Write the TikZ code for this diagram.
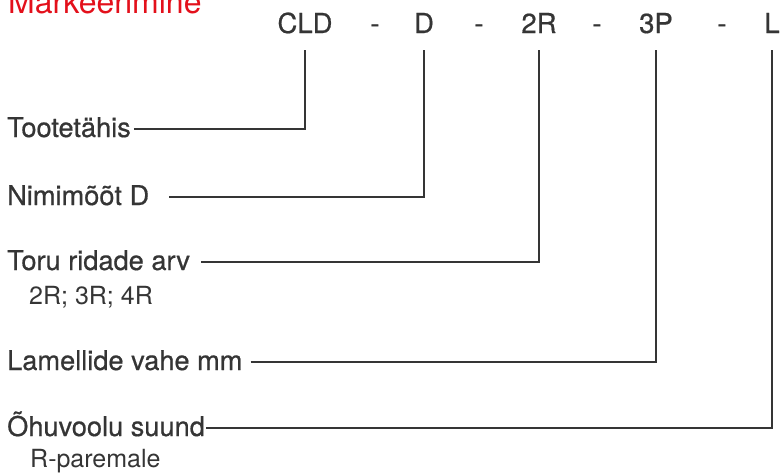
\documentclass[tikz,border=0pt]{standalone}
\usepackage{fontspec}
\setmainfont{TeX Gyre Heros}
\newfontfamily\heavyfont[FakeBold=0.6]{TeX Gyre Heros}
\usepackage{tikz}
\definecolor{markred}{HTML}{E3101B}
\definecolor{ink}{HTML}{353535}
\tikzset{
  code/.style={anchor=base,inner sep=0pt,text depth=0pt,text=ink,font=\heavyfont\fontsize{27.5}{27.5}\selectfont},
  lbl/.style={anchor=base west,inner sep=0pt,text height=22pt,text depth=6pt,text=ink,font=\heavyfont\fontsize{27.2}{27.2}\selectfont},
  sub/.style={anchor=base west,inner sep=0pt,text=ink,font=\fontsize{25}{25}\selectfont},
  lead/.style={ink,line width=1.6pt}
}

\begin{document}
\begin{tikzpicture}[x=1pt,y=-1pt]
      \useasboundingbox (0,0) rectangle (780,472);
      \clip (0,0) rectangle (780,472);
      \node[anchor=base west,inner sep=0pt,text=markred,font=\fontsize{32}{32}\selectfont] (title) at (8,13) {Markeerimine};
      % code row
      \node[code] (cld) at (305,33) {CLD};
      \node[code] (s1) at (375,33) {-};
      \node[code] (d) at (424,33) {D};
      \node[code] (s2) at (479,33) {-};
      \node[code] (r2) at (539,33) {2R};
      \node[code] (s3) at (597,33) {-};
      \node[code] (p3) at (656,33) {3P};
      \node[code] (s4) at (722,33) {-};
      \node[code] (l) at (772,33) {L};
      % labels
      \node[lbl] (tt) at (7,137) {Tootetähis};
      \node[lbl] (nd) at (7,205) {Nimimõõt D};
      \node[lbl] (tr) at (7,270) {Toru ridade arv};
      \node[sub] (trs) at (29,304) {2R; 3R; 4R};
      \node[lbl] (lv) at (7,370) {Lamellide vahe mm};
      \node[lbl] (hs) at (7,436) {Õhuvoolu suund};
      \node[sub] (hss) at (30,467) {R-paremale};
      % leaders
      \draw[lead] ([xshift=3pt]tt.east) -- (tt.east -| cld.south) -- ([yshift=-17pt]cld.south);
      \draw[lead] ([xshift=20pt]nd.east) -- (nd.east -| d.south) -- ([yshift=-17pt]d.south);
      \draw[lead] ([xshift=11pt]tr.east) -- (tr.east -| r2.south) -- ([yshift=-17pt]r2.south);
      \draw[lead] ([xshift=8pt]lv.east) -- (lv.east -| p3.south) -- ([yshift=-17pt]p3.south);
      \draw[lead] ([xshift=1pt]hs.east) -- (hs.east -| l.south) -- ([yshift=-17pt]l.south);
\end{tikzpicture}
\end{document}
